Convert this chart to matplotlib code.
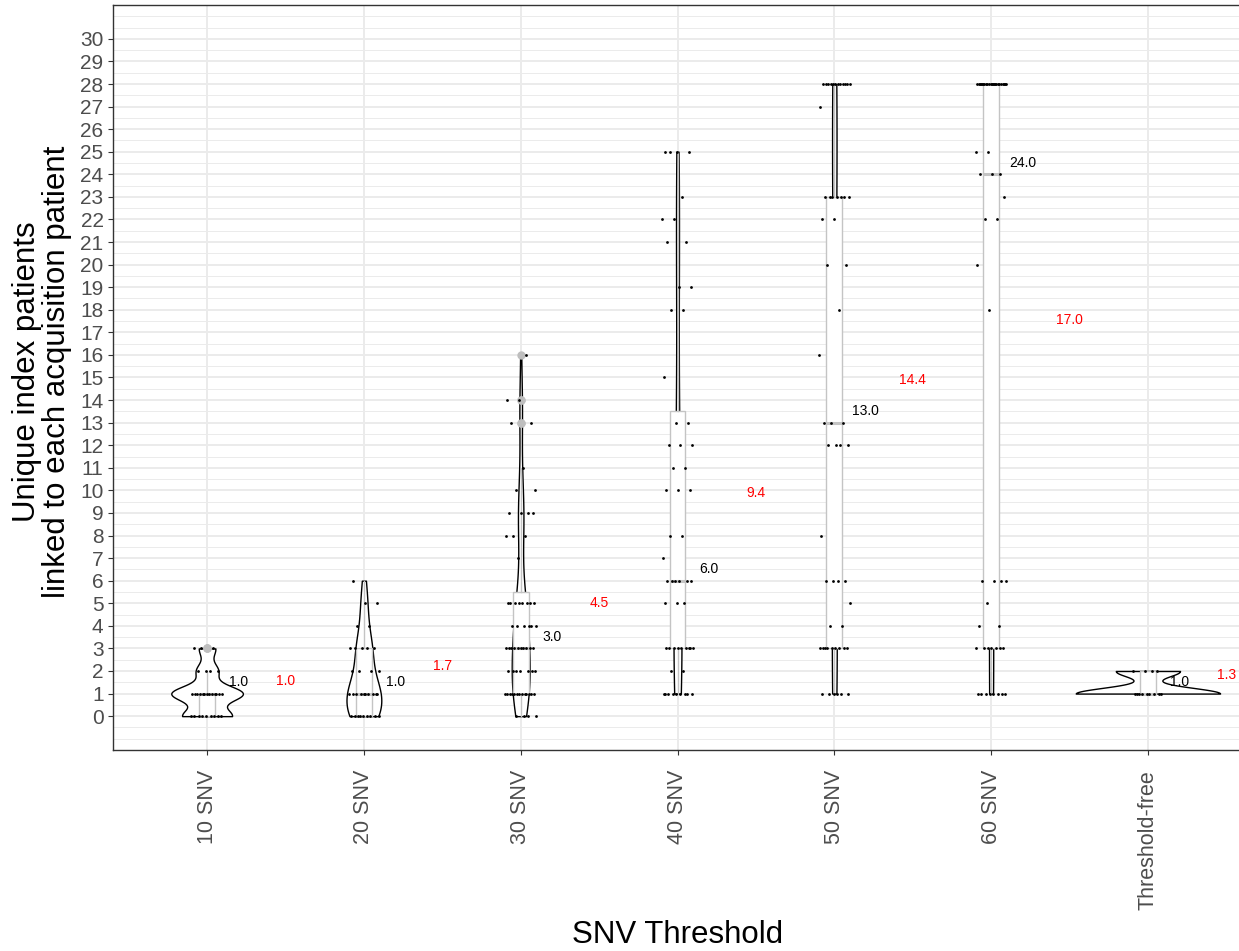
import numpy as np
import matplotlib
matplotlib.use("Agg")
import matplotlib.pyplot as plt
import matplotlib.transforms as mtransforms
from matplotlib.ticker import MultipleLocator

plt.rcParams['font.family'] = ['Liberation Sans', 'DejaVu Sans']

thresholds = ["10 SNV", "20 SNV", "30 SNV", "40 SNV", "50 SNV", "60 SNV", "Threshold-free"]

# unique index patients per acquisition patient: value -> how many patients
snv10_values = [0, 1, 2, 3]
snv10_counts = [9, 13, 4, 3]
snv20_values = [0, 1, 2, 3, 4, 5, 6]
snv20_counts = [9, 10, 4, 5, 2, 2, 1]
snv30_values = [0, 1, 2, 3, 4, 5, 7, 8, 9, 10, 11, 13, 14, 16]
snv30_counts = [4, 13, 7, 10, 6, 8, 1, 3, 4, 2, 1, 2, 2, 1]
snv40_values = [1, 2, 3, 5, 6, 7, 8, 10, 11, 12, 13, 15, 18, 19, 21, 22, 23, 25]
snv40_counts = [9, 2, 9, 3, 6, 1, 2, 3, 2, 3, 2, 1, 2, 2, 2, 2, 1, 4]
snv50_values = [1, 3, 4, 5, 6, 8, 12, 13, 16, 18, 20, 22, 23, 27, 28]
snv50_counts = [6, 9, 2, 1, 4, 1, 4, 3, 1, 1, 2, 2, 7, 1, 12]
snv60_values = [1, 3, 4, 5, 6, 18, 20, 22, 23, 24, 25, 28]
snv60_counts = [8, 7, 2, 1, 4, 1, 1, 2, 1, 3, 2, 23]
free_values = [1, 2]
free_counts = [9, 4]

pairs = [(snv10_values, snv10_counts), (snv20_values, snv20_counts),
         (snv30_values, snv30_counts), (snv40_values, snv40_counts),
         (snv50_values, snv50_counts), (snv60_values, snv60_counts),
         (free_values, free_counts)]
groups = [np.repeat(np.array(v, float), c) for v, c in pairs]
positions = np.arange(1, len(groups) + 1)

BOX_GREY = "#C4C4C4"


def nrd0(x):
    # same rule of thumb as R's default bandwidth
    sd = np.std(x, ddof=1)
    q75, q25 = np.percentile(x, [75, 25])
    lo = min(sd, (q75 - q25) / 1.34)
    if lo == 0:
        lo = sd or abs(x[0]) or 1
    return 0.9 * lo * len(x) ** -0.2


def density(x):
    bw = nrd0(x)
    grid = np.linspace(x.min(), x.max(), 512)
    d = np.exp(-0.5 * ((grid[:, None] - x[None, :]) / bw) ** 2).sum(1)
    return grid, d / (len(x) * bw * np.sqrt(2 * np.pi))


fig = plt.figure(figsize=(12.39, 9.51), dpi=100)
ax = fig.add_axes([113 / 1239, 1 - 750 / 951, 1129 / 1239, 745 / 951])

# violins, scaled by area like ggplot's default
dens = [density(g) for g in groups]
dmax = max(d.max() for _, d in dens)
for pos, (grid, d) in zip(positions, dens):
    hw = 0.46 * d / dmax
    ax.fill_betweenx(grid, pos - hw, pos + hw, facecolor="white",
                     edgecolor="black", lw=1.0, zorder=2)

ax.boxplot(groups, positions=positions, widths=0.1, patch_artist=True,
           showcaps=False, manage_ticks=False,
           boxprops=dict(facecolor="white", edgecolor=BOX_GREY, lw=1.0),
           whiskerprops=dict(color=BOX_GREY, lw=1.0),
           medianprops=dict(color=BOX_GREY, lw=2.2),
           flierprops=dict(marker="o", markerfacecolor="#BEBEBE",
                           markeredgecolor="#BEBEBE", markersize=5),
           zorder=3)

# jittered points (deterministic spread)
for i, (pos, g) in enumerate(zip(positions, groups)):
    k = np.arange(len(g))
    off = ((k * 0.618034 + 0.37 * i) % 1.0) * 0.2 - 0.1
    ax.scatter(pos + off, g, s=4, c="black", lw=0, zorder=4)

for pos, g in zip(positions, groups):
    med = np.median(g)
    mean = g.mean()
    ax.text(pos + 0.2, med + 0.5, f"{med:.1f}", ha="center", va="center",
            fontsize=10, color="black", zorder=5)
    ax.text(pos + 0.5, mean + 0.5, f"{mean:.1f}", ha="center", va="center",
            fontsize=10, color="red", zorder=5)

ax.set_xlim(0.4, 7.6)
ax.set_ylim(-1.5, 31.5)
ax.set_xticks(positions)
ax.set_xticklabels(thresholds, rotation=90, va="top", ha="center")
ax.yaxis.set_minor_locator(MultipleLocator(0.5))
ax.set_yticks(np.arange(0, 31))

# nudge the rotated labels a little right, as in the original
shift = mtransforms.ScaledTranslation(5 / 100, 0, fig.dpi_scale_trans)
for lab in ax.get_xticklabels():
    lab.set_transform(lab.get_transform() + shift)

ax.set_axisbelow(True)
ax.grid(which="major", color="#EBEBEB", lw=1.4)
ax.grid(which="minor", axis="y", color="#EBEBEB", lw=0.7)
ax.tick_params(which="major", length=3.3, width=0.8, color="#333333",
               labelcolor="#4D4D4D", labelsize=15)
ax.tick_params(axis="y", pad=3.5)
ax.tick_params(axis="x", pad=11, labelsize=15.5)
ax.tick_params(which="minor", length=0)
for s in ax.spines.values():
    s.set_color("#333333")
    s.set_linewidth(1.0)

fig.text(677.5 / 1239, 1 - 935 / 951, "SNV Threshold", ha="center",
         va="center", fontsize=22.5)
fig.text(42 / 1239, 1 - 372 / 951,
         "Unique index patients\nlinked to each acquisition patient",
         rotation=90, ha="center", va="center", multialignment="center",
         fontsize=22.5, linespacing=1.0)

fig.savefig("out.png", dpi=100)
